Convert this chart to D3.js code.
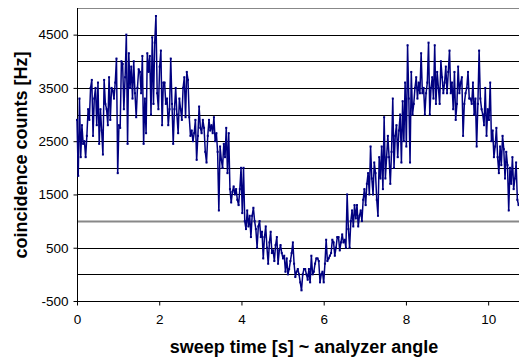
<!DOCTYPE html>
<html>
<head>
<meta charset="utf-8">
<script src="https://cdn.jsdelivr.net/npm/d3@7"></script>
<style>
    body { margin: 0; background: #fff; }
    svg { display: block; font-family: "Liberation Sans", Arial, sans-serif; }
</style>
</head>
<body>
<div id="chart"></div>
<script>
// sampling interval of the sweep, seconds
const sampleStep = 0.03

// coincidence counts [Hz], one row per 0.3 s
const counts = [
    2900, 1850, 3300, 2200, 2800, 2450, 2500, 2200, 2600, 3100,
    2900, 3500, 3650, 2600, 3300, 3500, 2800, 3600, 2450, 3100,
    2700, 2250, 3650, 3200, 3100, 2800, 3700, 2900, 3500, 3450,
    3300, 3600, 4050, 1900, 2800, 2750, 4000, 3950, 3100, 3700,
    4500, 2450, 4150, 3500, 3900, 3300, 4000, 3400, 2950, 3500,
    3850, 3800, 3400, 4100, 2450, 3300, 2650, 4150, 3800, 4100,
    3000, 4450, 3200, 4350, 4850, 3400, 3100, 3900, 4200, 2800,
    3600, 3600, 3200, 3300, 2800, 3100, 4050, 3200, 2450, 3100,
    3500, 3000, 2650, 3300, 3100, 2900, 3500, 3700, 2950, 3800,
    3650, 2950, 2600, 2700, 2500, 2650, 2900, 2150, 2600, 3150,
    2750, 2650, 2900, 2750, 2300, 2100, 2600, 2900, 2700, 2800,
    2650, 2950, 2500, 2650, 2300, 1200, 2400, 2150, 2000, 2450,
    2200, 2750, 1900, 2650, 1600, 1350, 1550, 1650, 1500, 1600,
    1400, 1300, 1600, 2000, 1150, 2000, 1000, 850, 1200, 900,
    1100, 700, 1100, 1250, 1000, 850, 500, 900, 1000, 700,
    800, 300, 700, 900, 500, 200, 600, 800, 400, 450,
    250, 550, 700, 200, 450, 550, 400, 300, 350, 50,
    300, 0, 100, 250, 400, 600, 200, -50, 50, 100,
    0, -150, -300, 0, 100, 100, 0, -100, 100, -150,
    350, 0, 50, 200, 300, 300, 250, -150, 0, 50,
    -150, 200, 650, 250, 300, 350, 400, 650, 600, 350,
    500, 700, 700, 450, 600, 750, 600, 650, 500, 1500,
    850, 500, 1000, 1200, 900, 1300, 1050, 1300, 900, 1100,
    1200, 1000, 1400, 1600, 1300, 1700, 1900, 1500, 2400, 1800,
    1500, 2100, 1900, 1400, 1100, 2200, 1800, 2400, 1600, 2950,
    1800, 2200, 2600, 2200, 1700, 2300, 3300, 2000, 2600, 2800,
    2200, 2700, 3000, 2100, 3250, 2500, 3600, 2400, 4300, 3300,
    2100, 3800, 3000, 3200, 3500, 3700, 3300, 3600, 3400, 4150,
    3400, 3500, 3000, 3400, 3600, 4350, 3000, 3500, 3700, 3300,
    4300, 3200, 3800, 3500, 3200, 4000, 3700, 3400, 3600, 3900,
    3400, 3800, 4200, 3400, 3600, 3100, 3800, 2900, 3200, 3900,
    3400, 3600, 3700, 2600, 3200, 3400, 3500, 3800, 3300, 3300,
    3200, 3600, 3000, 3300, 2400, 3200, 4200, 3300, 3100, 3000,
    2800, 3500, 2600, 3100, 2900, 3600, 2500, 2700, 2200, 2400,
    2750, 2200, 1900, 2400, 2050, 2600, 2350, 1800, 2300, 2050,
    1200, 2000, 1700, 2200, 1600, 1800, 2100, 1400, 1300,
]

const xTicks = [0, 2, 4, 6, 8, 10]
const yTicks = [-500, 500, 1500, 2500, 3500, 4500]
const yGrid = [0, 500, 1000, 1500, 2000, 2500, 3000, 3500, 4000, 4500, 5000]

const width = 519
const height = 358
const margin = {top: 8, right: 0, bottom: 57, left: 77}

const points = counts.map((v, i) => ({t: i * sampleStep, v: v}))

const x = d3.scaleLinear()
    .domain([0, 10.75])
    .range([margin.left, width - margin.right])

const y = d3.scaleLinear()
    .domain([-500, 5000])
    .range([height - margin.bottom, margin.top])

const svg = d3.select("#chart")
    .append("svg")
    .attr("width", width)
    .attr("height", height)

// horizontal gridlines
svg.append("g")
    .selectAll("line")
    .data(yGrid)
    .join("line")
    .attr("x1", margin.left)
    .attr("x2", width - margin.right)
    .attr("y1", (d) => Math.round(y(d)) + 0.5)
    .attr("y2", (d) => Math.round(y(d)) + 0.5)
    .attr("stroke", (d) => (d === 1000 || d === 5000) ? "#888" : "#000")
    .attr("stroke-width", (d) => d === 1000 ? 2 : 1)

// plain hyphen for negatives, like the original
const plain = (d) => String(d)

// y axis
const yAxis = svg.append("g")
    .attr("transform", `translate(${margin.left + 0.5},0)`)
    .call(d3.axisLeft(y).tickValues(yTicks).tickSize(4).tickPadding(5)
        .tickFormat(plain))
yAxis.select(".domain").attr("d", `M0,${y(5000)}V${y(-500)}`)
yAxis.selectAll("text")
    .attr("font-size", 13.5)
    .attr("fill", "#000")
    .attr("font-family", "Liberation Sans, Arial, sans-serif")

// x axis
const xAxis = svg.append("g")
    .attr("transform", `translate(0,${Math.round(y(-500)) + 0.5})`)
    .call(d3.axisBottom(x).tickValues(xTicks).tickSize(4).tickPadding(9)
        .tickFormat(plain))
xAxis.select(".domain").attr("d", `M${margin.left},0H${width}`)
xAxis.selectAll("text")
    .attr("font-size", 13.5)
    .attr("fill", "#000")
    .attr("font-family", "Liberation Sans, Arial, sans-serif")

// the measured sweep
const line = d3.line()
    .x((d) => x(d.t))
    .y((d) => y(d.v))

svg.append("path")
    .datum(points)
    .attr("fill", "none")
    .attr("stroke", "#000080")
    .attr("stroke-width", 1.5)
    .attr("stroke-linejoin", "round")
    .attr("d", line)

svg.append("g")
    .selectAll("rect")
    .data(points)
    .join("rect")
    .attr("x", (d) => x(d.t) - 1)
    .attr("y", (d) => y(d.v) - 1)
    .attr("width", 2)
    .attr("height", 2)
    .attr("fill", "#000080")

// axis titles
svg.append("text")
    .attr("x", 304)
    .attr("y", 353)
    .attr("text-anchor", "middle")
    .attr("font-size", 18)
    .attr("font-weight", "bold")
    .text("sweep time [s] ~ analyzer angle")

svg.append("text")
    .attr("transform", "translate(27,155) rotate(-90)")
    .attr("text-anchor", "middle")
    .attr("font-size", 18)
    .attr("font-weight", "bold")
    .text("coincidence counts [Hz]")
</script>
</body>
</html>
